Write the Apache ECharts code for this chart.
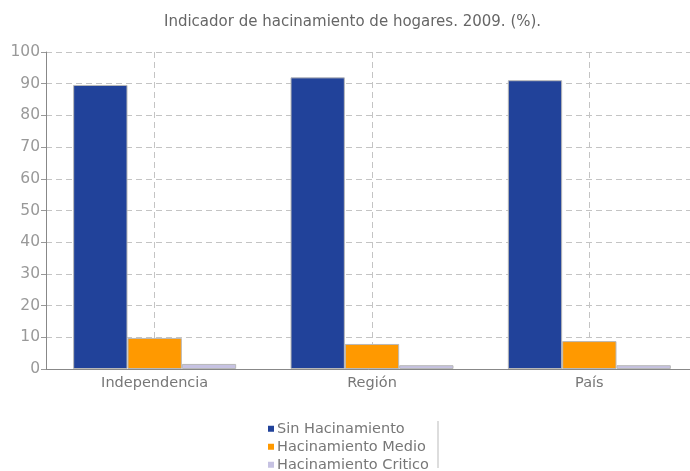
<!DOCTYPE html>
<html>
<head>
<meta charset="utf-8">
<script src="https://cdn.jsdelivr.net/npm/echarts@6/dist/echarts.min.js"></script>
<style>
  html, body { margin: 0; padding: 0; background: #fff; }
  #chart { width: 690px; height: 471px; }
</style>
</head>
<body>
<div id="chart"></div>
<script>
// datos del gráfico
const categorias = ["Independencia", "Región", "País"];
const sinHacinamiento = [89.6, 92.0, 91.1];
const hacinamientoMedio = [9.8, 7.9, 8.8];
const hacinamientoCritico = [1.6, 1.2, 1.2];
const nombresSeries = ["Sin Hacinamiento", "Hacinamiento Medio", "Hacinamiento Critico"];
const coloresSeries = ["#21429a", "#ff9900", "#c6c2e2"];

const fuente = "DejaVu Sans";

function serieBarra(nombre, datos, color) {
  return {
    name: nombre,
    type: "bar",
    data: datos,
    barGap: "0%",
    barCategoryGap: "25%",
    itemStyle: { color: color, borderColor: "#b8b8b8", borderWidth: 1 }
  };
}

const grafico = echarts.init(document.getElementById("chart"));
grafico.setOption({
  animation: false,
  title: {
    text: "Indicador de hacinamiento de hogares. 2009. (%).",
    left: 159,
    top: 10,
    textStyle: { color: "#666", fontSize: 15, fontWeight: "normal", fontFamily: fuente }
  },
  legend: {
    orient: "vertical",
    left: 268,
    top: 421,
    height: 60,
    padding: 0,
    itemWidth: 6,
    itemHeight: 6,
    itemGap: 2.5,
    icon: "rect",
    itemStyle: { borderWidth: 0 },
    data: nombresSeries,
    textStyle: { color: "#777", fontSize: 14.5, fontFamily: fuente, lineHeight: 15.5, padding: [0, 0, 0, -2] }
  },
  grid: { left: 46, width: 652, top: 52, bottom: 102, outerBoundsMode: "none" },
  xAxis: {
    type: "category",
    data: categorias,
    axisLine: { lineStyle: { color: "#888", width: 1 } },
    axisTick: { alignWithLabel: true, length: 5, lineStyle: { color: "#999" } },
    axisLabel: { color: "#777", fontSize: 14.5, fontFamily: fuente, margin: 7 },
    splitLine: { show: true, alignWithLabel: true, lineStyle: { color: "#c4c4c4", type: [6, 4] } }
  },
  yAxis: {
    type: "value",
    min: 0,
    max: 100,
    interval: 10,
    axisLine: { show: true, lineStyle: { color: "#888" } },
    axisTick: { show: true, length: 5, lineStyle: { color: "#999" } },
    axisLabel: { color: "#999", fontSize: 15.5, fontFamily: fuente, margin: 6 },
    splitLine: { lineStyle: { color: "#c4c4c4", type: [6, 4] } }
  },
  graphic: [{
    type: "line",
    shape: { x1: 438, y1: 421, x2: 438, y2: 468 },
    style: { stroke: "#bbb", lineWidth: 1 }
  }],
  series: [
    serieBarra(nombresSeries[0], sinHacinamiento, coloresSeries[0]),
    serieBarra(nombresSeries[1], hacinamientoMedio, coloresSeries[1]),
    serieBarra(nombresSeries[2], hacinamientoCritico, coloresSeries[2])
  ]
});
</script>
</body>
</html>
